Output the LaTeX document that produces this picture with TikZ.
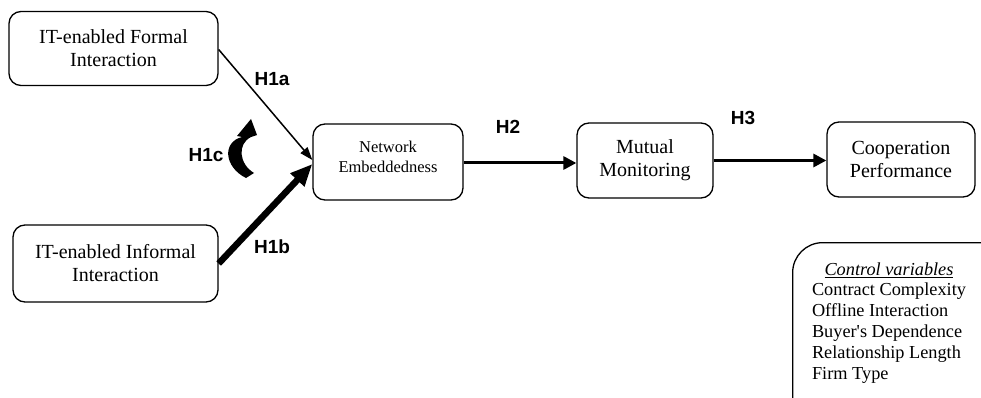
\documentclass[tikz,border=0pt]{standalone}
\usepackage{fontspec}
\setmainfont{Liberation Serif}
\newfontfamily\labelfont{Liberation Sans}
\usetikzlibrary{arrows.meta}
\begin{document}
\begin{tikzpicture}[x=1pt,y=-1pt,
  box/.style={draw, line width=1.3pt, rounded corners=12pt, align=center,
    inner sep=0pt, font=\fontsize{20}{23}\selectfont},
  hyp/.style={font=\labelfont\bfseries\fontsize{19}{22}\selectfont, inner sep=0pt},
  link/.style={-{Triangle[length=13pt,width=13pt]}, line width=3pt},
  thinlink/.style={-{Triangle[length=13pt,width=9pt]}, line width=1.5pt},
  thicklink/.style={-{Triangle[length=22pt,width=18pt]}, line width=6.5pt}]
\path[use as bounding box, clip] (0,0) rectangle (981,398);

% constructs
\node[box, minimum width=209pt, minimum height=74pt] (formal) at (113.5,48.5)
  {IT-enabled Formal\\Interaction};
\node[box, minimum width=205pt, minimum height=77pt] (informal) at (115.5,263.5)
  {IT-enabled Informal\\Interaction};
\node[box, minimum width=150pt, minimum height=76pt] (net) at (388,162) {};
\node[align=center, inner sep=0pt, font=\fontsize{16.5}{20}\selectfont]
  (nettext) at ([yshift=5pt]net.center) {Network\\Embeddedness};
\node[box, minimum width=136pt, minimum height=75pt] (mon) at (645,160.5)
  {Mutual\\Monitoring};
\node[box, minimum width=148pt, minimum height=75pt] (perf) at (901,159.5)
  {Cooperation\\Performance};

% control variables (box runs past the edge)
\node[draw, line width=1.3pt, rounded corners=30pt, anchor=north west,
  minimum width=240pt, minimum height=200pt] (ctrl) at (792,242) {};
\node[inner sep=0pt, font=\fontsize{18.3}{20.8}\selectfont] (ctrltext) at (889,323)
  {\begin{tabular}{@{}l@{}}
   \multicolumn{1}{@{}c@{}}{\underline{\textit{Control variables}}}\\
   Contract Complexity\\
   Offline Interaction\\
   Buyer\textquotesingle s Dependence\\
   Relationship Length\\
   Firm Type
   \end{tabular}};

% paths
\draw[thinlink] ([yshift=-1pt]formal.east) -- ([yshift=2pt]net.west);
\draw[thicklink] (informal.east) -- ([yshift=-2pt]net.west);
\draw[link] ([yshift=-1pt]net.east) -- ([yshift=-1pt]net.east -| mon.west);
\draw[link] (mon.east) -- (mon.east -| perf.west);

% hypothesis labels
\node[hyp] (h1a) at (272,79) {H1a};
\node[hyp] (h1b) at (272,247) {H1b};
\node[hyp] (h1c) at (206,155) {H1c};
\node[hyp] (h2) at (508,127) {H2};
\node[hyp] (h3) at (743,118) {H3};

% interaction arrow
\fill (246,178) .. controls (224,167) and (222,142) .. (242,137)
  -- (237,136) -- (251,119) -- (257,135) -- (251,137)
  .. controls (237,144) and (239,164) .. (254,173) -- cycle;
\end{tikzpicture}
\end{document}
